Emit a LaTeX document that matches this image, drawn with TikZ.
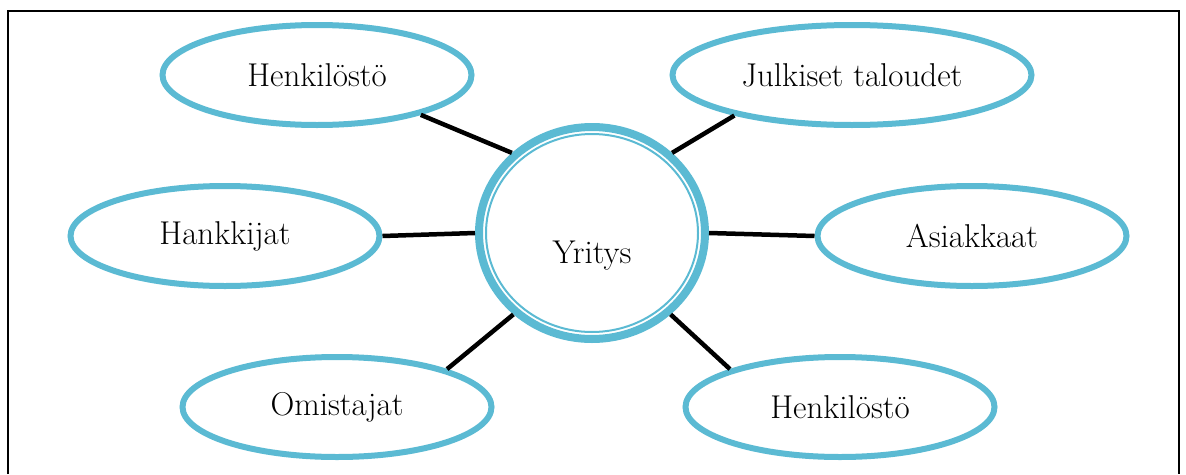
\documentclass[tikz,border=0pt]{standalone}
\usepackage{fontspec}
\usetikzlibrary{shapes.geometric}
\definecolor{ringblue}{RGB}{91,186,211}
\begin{document}
\begin{tikzpicture}[x=1pt,y=-1pt,
  party/.style={ellipse, draw=ringblue, line width=6pt, minimum width=309pt, minimum height=100pt, inner sep=0pt, font=\fontsize{33}{38}\selectfont},
  hub/.style={ellipse, draw=ringblue, line width=8pt, minimum width=226pt, minimum height=212pt, inner sep=0pt},
  link/.style={line width=4.5pt, black}]
\useasboundingbox (0,0) rectangle (1186,474);
\draw[line width=2pt] (8,474) -- (8,10.5) -- (1179,10.5) -- (1179,474);
\node[hub] (y) at (592,233) {};
\draw[ringblue, line width=2pt] (y.center) ellipse [x radius=106, y radius=99];
\node[font=\fontsize{33}{38}\selectfont] (yt) at (592,256) {Yritys};
\node[party] (h1) at (317,75) {Henkilöstö};
\node[party, minimum width=359pt] (jt) at (852,75) {Julkiset taloudet};
\node[party] (hk) at (225,236) {Hankkijat};
\node[party] (as) at (972,236) {Asiakkaat};
\node[party] (om) at (337,407) {Omistajat};
\node[party] (h2) at (840,407) {Henkilöstö};
\draw[link] (h1.-21) -- (y.135);
\draw[link] (jt.-161) -- (y.45);
\draw[link] (hk.0) -- (y.180);
\draw[link] (as.180) -- (y.0);
\draw[link] (om.19) -- (y.-134);
\draw[link] (h2.161) -- (y.-46);
\end{tikzpicture}
\end{document}
